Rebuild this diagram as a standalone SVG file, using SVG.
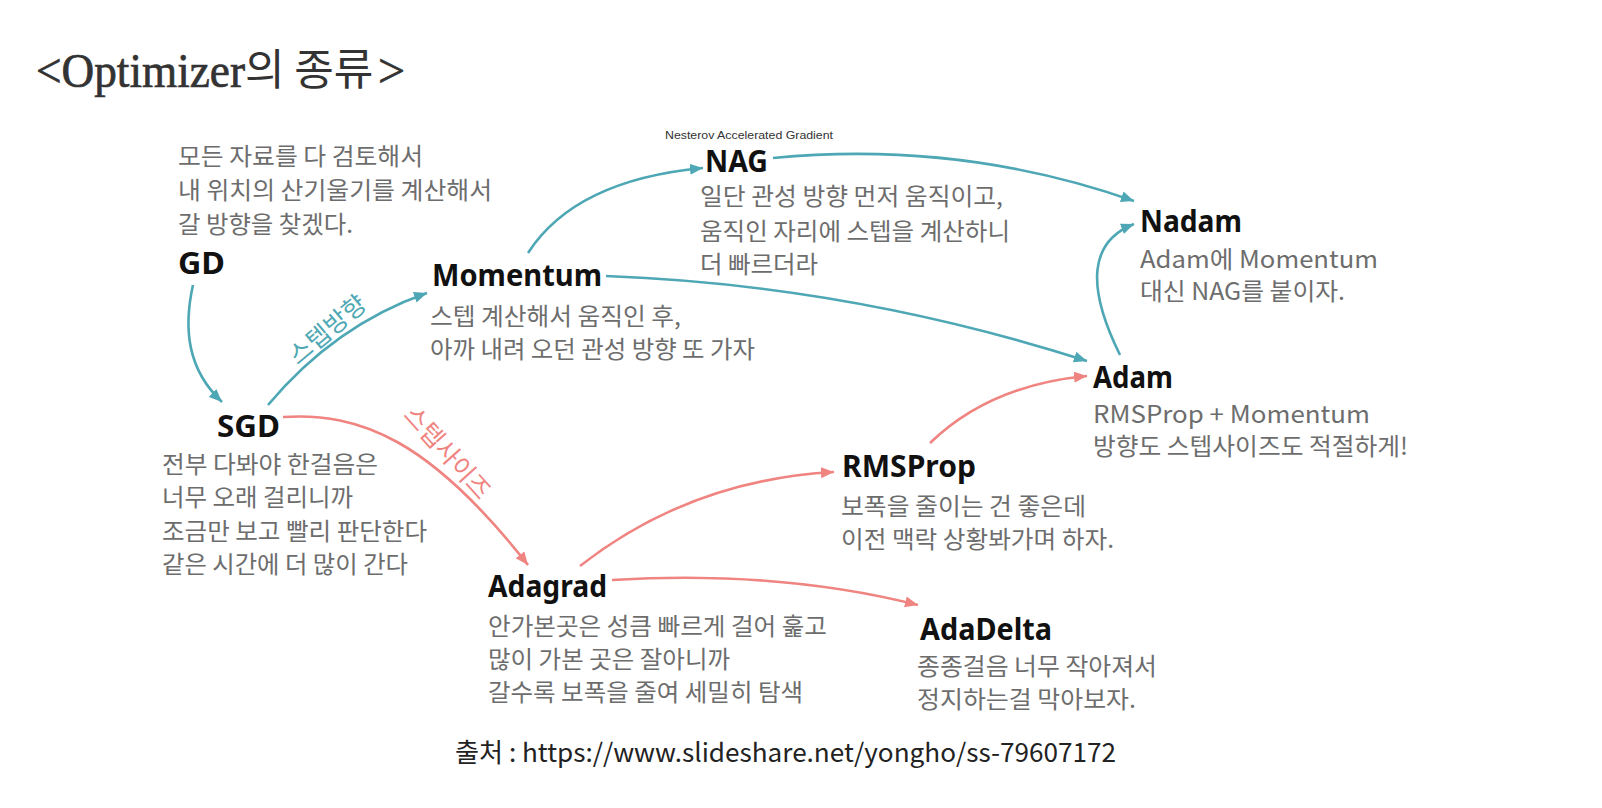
<svg xmlns="http://www.w3.org/2000/svg" width="1602" height="808" viewBox="0 0 1602 808">
<style>
.title{font-family:"Liberation Serif",serif;font-size:48px;fill:#333;stroke:#333;stroke-width:0.7}
.titlek{font-family:"Noto Sans CJK KR",sans-serif;font-size:43px;fill:#333}
.name{font-family:"Noto Sans","Noto Sans CJK KR",sans-serif;font-weight:700;font-size:30px;fill:#111}
.desc{font-family:"Noto Sans CJK KR","Noto Sans",sans-serif;font-size:24px;fill:#6d6d6d}
.small{font-family:"Liberation Sans Narrow","Liberation Sans",sans-serif;font-size:10px;fill:#333}
.footer{font-family:"Noto Sans CJK KR","Noto Sans",sans-serif;font-size:26px;fill:#222}
.teal{fill:none;stroke:#4ea7b4;stroke-width:2.6}
.red{fill:none;stroke:#ef8480;stroke-width:2.6}
.lt{font-family:"Noto Sans CJK KR",sans-serif;font-size:25px;fill:#4ea7b4}
.lr{font-family:"Noto Sans CJK KR",sans-serif;font-size:25px;fill:#ef8480}
</style>
<defs>
<marker id="ah-teal" markerUnits="userSpaceOnUse" markerWidth="14" markerHeight="12" refX="13" refY="5.5" orient="auto"><path d="M0,0 L13,5.5 L0,11 z" fill="#4ea7b4"/></marker>
<marker id="ah-red" markerUnits="userSpaceOnUse" markerWidth="14" markerHeight="12" refX="13" refY="5.5" orient="auto"><path d="M0,0 L13,5.5 L0,11 z" fill="#ef8480"/></marker>
</defs>
<rect width="1602" height="808" fill="#fff"/>
<g id="title">
<text class="title" x="36" y="87" textLength="209" lengthAdjust="spacingAndGlyphs">&lt;Optimizer</text>
<text class="titlek" x="245" y="85">의 종류</text>
<text class="title" x="378" y="87">&gt;</text>
</g>

<g id="connectors">
<path class="teal" marker-end="url(#ah-teal)" d="M193,285 C183,330 188,370 222,402"/>
<path class="teal" marker-end="url(#ah-teal)" d="M268,405 Q335,325 427,293"/>
<path class="teal" marker-end="url(#ah-teal)" d="M528,253 Q575,180 703,168"/>
<path class="teal" marker-end="url(#ah-teal)" d="M773,158 Q960,140 1134,201"/>
<path class="teal" marker-end="url(#ah-teal)" d="M606,276 Q850,285 1087,361"/>
<path class="teal" marker-end="url(#ah-teal)" d="M1120,355 Q1068,250 1134,224"/>
<path class="red" marker-end="url(#ah-red)" d="M283,417 C360,412 430,440 528,565"/>
<path class="red" marker-end="url(#ah-red)" d="M580,566 Q690,480 834,472"/>
<path class="red" marker-end="url(#ah-red)" d="M612,580 Q780,570 918,605"/>
<path class="red" marker-end="url(#ah-red)" d="M930,443 Q990,385 1087,376"/>
<text class="lt" text-anchor="middle" dominant-baseline="central" transform="translate(326,328) rotate(-40)">스텝방향</text>
<text class="lr" text-anchor="middle" dominant-baseline="central" transform="translate(449,451) rotate(48)">스텝사이즈</text>
</g>

<g id="node-gd">
<text class="desc" x="178" y="165" textLength="245" lengthAdjust="spacingAndGlyphs">모든 자료를 다 검토해서</text>
<text class="desc" x="178" y="199" textLength="314" lengthAdjust="spacingAndGlyphs">내 위치의 산기울기를 계산해서</text>
<text class="desc" x="178" y="233" textLength="175" lengthAdjust="spacingAndGlyphs">갈 방향을 찾겠다.</text>
<text class="name" x="178" y="274" textLength="47" lengthAdjust="spacingAndGlyphs">GD</text>
</g>

<g id="node-sgd">
<text class="name" x="217" y="437" textLength="63" lengthAdjust="spacingAndGlyphs">SGD</text>
<text class="desc" x="162" y="473" textLength="216" lengthAdjust="spacingAndGlyphs">전부 다봐야 한걸음은</text>
<text class="desc" x="162" y="506" textLength="191" lengthAdjust="spacingAndGlyphs">너무 오래 걸리니까</text>
<text class="desc" x="162" y="540" textLength="265" lengthAdjust="spacingAndGlyphs">조금만 보고 빨리 판단한다</text>
<text class="desc" x="162" y="573" textLength="246" lengthAdjust="spacingAndGlyphs">같은 시간에 더 많이 간다</text>
</g>

<g id="node-momentum">
<text class="name" x="432" y="286" textLength="170" lengthAdjust="spacingAndGlyphs">Momentum</text>
<text class="desc" x="430" y="325" textLength="251" lengthAdjust="spacingAndGlyphs">스텝 계산해서 움직인 후,</text>
<text class="desc" x="430" y="358" textLength="325" lengthAdjust="spacingAndGlyphs">아까 내려 오던 관성 방향 또 가자</text>
</g>

<g id="node-nag">
<text class="small" x="665" y="139" textLength="168" lengthAdjust="spacingAndGlyphs">Nesterov Accelerated Gradient</text>
<text class="name" x="705" y="172" textLength="63" lengthAdjust="spacingAndGlyphs">NAG</text>
<text class="desc" x="700" y="205" textLength="303" lengthAdjust="spacingAndGlyphs">일단 관성 방향 먼저 움직이고,</text>
<text class="desc" x="700" y="240" textLength="310" lengthAdjust="spacingAndGlyphs">움직인 자리에 스텝을 계산하니</text>
<text class="desc" x="700" y="273" textLength="118" lengthAdjust="spacingAndGlyphs">더 빠르더라</text>
</g>

<g id="node-nadam">
<text class="name" x="1140" y="232" textLength="102" lengthAdjust="spacingAndGlyphs">Nadam</text>
<text class="desc" x="1140" y="268" textLength="238" lengthAdjust="spacingAndGlyphs">Adam에 Momentum</text>
<text class="desc" x="1140" y="300" textLength="205" lengthAdjust="spacingAndGlyphs">대신 NAG를 붙이자.</text>
</g>

<g id="node-adam">
<text class="name" x="1093" y="388" textLength="80" lengthAdjust="spacingAndGlyphs">Adam</text>
<text class="desc" x="1093" y="423" textLength="277" lengthAdjust="spacingAndGlyphs">RMSProp + Momentum</text>
<text class="desc" x="1093" y="455" textLength="315" lengthAdjust="spacingAndGlyphs">방향도 스텝사이즈도 적절하게!</text>
</g>

<g id="node-rmsprop">
<text class="name" x="842" y="477" textLength="134" lengthAdjust="spacingAndGlyphs">RMSProp</text>
<text class="desc" x="841" y="515" textLength="245" lengthAdjust="spacingAndGlyphs">보폭을 줄이는 건 좋은데</text>
<text class="desc" x="841" y="548" textLength="273" lengthAdjust="spacingAndGlyphs">이전 맥락 상황봐가며 하자.</text>
</g>

<g id="node-adagrad">
<text class="name" x="488" y="597" textLength="119" lengthAdjust="spacingAndGlyphs">Adagrad</text>
<text class="desc" x="488" y="635" textLength="339" lengthAdjust="spacingAndGlyphs">안가본곳은 성큼 빠르게 걸어 훑고</text>
<text class="desc" x="488" y="668" textLength="242" lengthAdjust="spacingAndGlyphs">많이 가본 곳은 잘아니까</text>
<text class="desc" x="488" y="701" textLength="315" lengthAdjust="spacingAndGlyphs">갈수록 보폭을 줄여 세밀히 탐색</text>
</g>

<g id="node-adadelta">
<text class="name" x="920" y="640" textLength="132" lengthAdjust="spacingAndGlyphs">AdaDelta</text>
<text class="desc" x="917" y="675" textLength="240" lengthAdjust="spacingAndGlyphs">종종걸음 너무 작아져서</text>
<text class="desc" x="917" y="708" textLength="219" lengthAdjust="spacingAndGlyphs">정지하는걸 막아보자.</text>
</g>

<text class="footer" x="455" y="762" textLength="661" lengthAdjust="spacingAndGlyphs">출처 : https://www.slideshare.net/yongho/ss-79607172</text>
</svg>
